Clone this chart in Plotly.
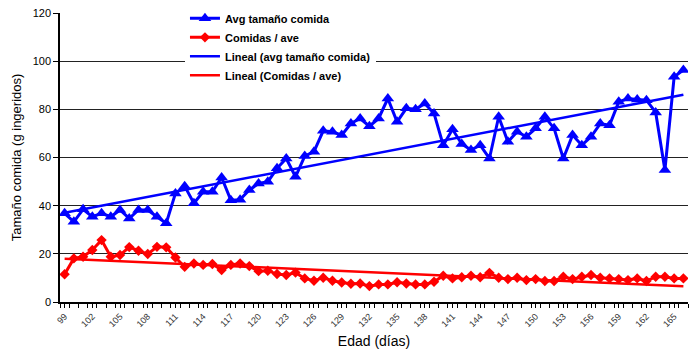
import numpy as np
import plotly.graph_objects as go

days = list(range(99, 167))

avg_tamano = [36.8, 33.3, 38.5, 35.4, 36.8, 35.4, 38.2, 34.7, 38.2, 38.2, 35.4, 32.7,
              45.1, 48.1, 41.0, 45.8, 45.8, 51.7, 42.3,
              42.5, 46.5, 49.2, 49.9, 55.5, 59.6, 52.0, 60.6, 62.4, 71.1, 70.7, 69.3,
              74.1, 76.2, 73.0, 76.2, 84.5, 74.8, 80.4,
              80.0, 82.4, 78.3, 65.1, 71.7, 65.6, 63.1, 65.1, 59.6, 76.9, 66.5, 70.7,
              68.6, 72.1, 76.9, 72.1, 59.6, 69.3, 65.1,
              68.6, 74.1, 73.4, 83.1, 84.5, 84.1, 83.8, 78.7, 54.8, 93.5, 96.3]

comidas_ave = [11.5, 18.1, 18.8, 21.6, 25.7, 18.8, 19.5, 22.8, 21.3, 19.9, 22.9, 22.7,
               18.5, 14.6, 16.0, 15.4, 15.8, 13.3, 15.4, 16.0, 14.9, 12.8, 13.0, 11.6,
               11.2, 12.2, 9.8, 8.8, 10.1, 8.8, 8.1, 7.6, 7.7, 6.6, 7.3, 7.3, 8.2, 7.7,
               7.3, 7.3, 8.4, 10.9, 9.8, 10.3, 10.9, 10.3, 12.1, 10.1, 9.5, 10.1, 9.1,
               9.5, 8.7, 8.7, 10.5, 9.5, 10.5, 11.2, 10.1, 9.8, 9.5, 9.1, 9.8, 8.7,
               10.5, 10.5, 9.8, 9.8]

x_tick_vals = list(range(99, 166, 3))
x_tick_labels = [str(v) for v in x_tick_vals]
y_tick_vals = [0, 20, 40, 60, 80, 100, 120]

names = ["Avg tamaño comida", "Comidas / ave",
         "Lineal (avg tamaño comida)", "Lineal (Comidas / ave)"]

BLUE = "#0000FF"
RED = "#FF0000"

x = np.array(days, dtype=float)
b1, b0 = np.polyfit(x, np.array(avg_tamano), 1)
r1, r0 = np.polyfit(x, np.array(comidas_ave), 1)
trend_blue = b0 + b1 * x
trend_red = r0 + r1 * x

fig = go.Figure()
fig.add_trace(go.Scatter(
    x=days, y=avg_tamano, name=names[0], mode="lines+markers",
    line=dict(color=BLUE, width=3),
    marker=dict(symbol="triangle-up", size=11, color=BLUE)))
fig.add_trace(go.Scatter(
    x=days, y=comidas_ave, name=names[1], mode="lines+markers",
    line=dict(color=RED, width=3),
    marker=dict(symbol="diamond", size=8, color=RED)))
fig.add_trace(go.Scatter(
    x=days, y=trend_blue, name=names[2], mode="lines",
    line=dict(color=BLUE, width=2.5)))
fig.add_trace(go.Scatter(
    x=days, y=trend_red, name=names[3], mode="lines",
    line=dict(color=RED, width=2.5)))

fig.update_layout(
    width=700, height=351,
    margin=dict(l=60, r=12, t=13, b=49, autoexpand=False),
    paper_bgcolor="white", plot_bgcolor="white",
    font=dict(family="Liberation Sans, Arial, sans-serif", color="black"),
    showlegend=True,
    legend=dict(
        x=0.199, y=0.989, xref="paper", yref="container",
        xanchor="left", yanchor="top",
        bgcolor="white", borderwidth=0,
        font=dict(size=11, family="Liberation Sans, Arial, sans-serif", weight="bold"),
        tracegroupgap=0, itemwidth=30,
    ),
    xaxis=dict(
        range=[98.5, 166.5], automargin=False,
        tickmode="array", tickvals=x_tick_vals, ticktext=x_tick_labels,
        tickangle=-45, tickfont=dict(size=9, color="#333333"),
        ticks="outside", ticklen=4, tickcolor="black",
        showline=True, linecolor="black", linewidth=1.5,
        showgrid=False, zeroline=False,
        minor=dict(tickvals=[98.5 + i for i in range(69)], ticks="outside",
                   ticklen=4, tickcolor="black", showgrid=False),
        title=dict(text="Edad (días)", font=dict(size=14), standoff=8),
    ),
    yaxis=dict(
        range=[0, 120], automargin=False,
        tickmode="array", tickvals=y_tick_vals,
        tickfont=dict(size=11),
        ticks="outside", ticklen=5, tickcolor="black",
        showline=True, linecolor="black", linewidth=1.5,
        showgrid=True, gridcolor="#222222", gridwidth=1,
        zeroline=False,
        title=dict(text="Tamaño comida (g ingeridos)", font=dict(size=13), standoff=8),
    ),
)

fig.write_html("out.html")
